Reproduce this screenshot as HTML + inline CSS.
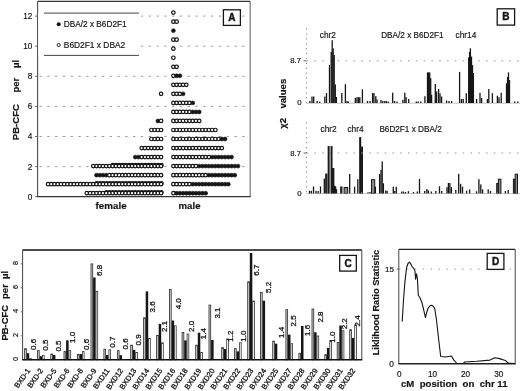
<!DOCTYPE html>
<html><head><meta charset="utf-8"><title>Figure</title>
<style>
html,body{margin:0;padding:0;background:#fff;}
body{width:520px;height:391px;overflow:hidden;}
svg{display:block;filter:grayscale(1);}
text{stroke:#161616;stroke-width:0.18px;}
svg{font-family:"Liberation Sans", sans-serif;}
</style></head><body>
<svg width="520" height="391" viewBox="0 0 520 391">
<rect x="0" y="0" width="520" height="391" fill="#fff"/>
<line x1="39.45" y1="166.6" x2="250.2" y2="166.6" stroke="#9a9a9a" stroke-width="1" stroke-dasharray="2.3 5.5"/>
<line x1="39.45" y1="136.5" x2="250.2" y2="136.5" stroke="#9a9a9a" stroke-width="1" stroke-dasharray="2.3 5.5"/>
<line x1="39.45" y1="106.4" x2="250.2" y2="106.4" stroke="#9a9a9a" stroke-width="1" stroke-dasharray="2.3 5.5"/>
<line x1="39.45" y1="76.3" x2="250.2" y2="76.3" stroke="#9a9a9a" stroke-width="1" stroke-dasharray="2.3 5.5"/>
<line x1="39.45" y1="46.2" x2="250.2" y2="46.2" stroke="#9a9a9a" stroke-width="1" stroke-dasharray="2.3 5.5"/>
<line x1="39.45" y1="16.1" x2="250.2" y2="16.1" stroke="#9a9a9a" stroke-width="1" stroke-dasharray="2.3 5.5"/>
<line x1="37.6" y1="1.4" x2="250.2" y2="1.4" stroke="#333" stroke-width="1.4"/>
<line x1="250.2" y1="1.4" x2="250.2" y2="196.7" stroke="#777" stroke-width="1.2"/>
<line x1="37.6" y1="1.4" x2="37.6" y2="196.7" stroke="#4a4a4a" stroke-width="1.1"/>
<line x1="37.1" y1="196.7" x2="250.7" y2="196.7" stroke="#333" stroke-width="1.3"/>
<line x1="35.1" y1="196.7" x2="37.6" y2="196.7" stroke="#555" stroke-width="0.9"/>
<text x="32.4" y="199.6" font-size="8.2" font-weight="normal" text-anchor="end" fill="#161616">0</text>
<line x1="35.1" y1="166.6" x2="37.6" y2="166.6" stroke="#555" stroke-width="0.9"/>
<text x="32.4" y="169.5" font-size="8.2" font-weight="normal" text-anchor="end" fill="#161616">2</text>
<line x1="35.1" y1="136.5" x2="37.6" y2="136.5" stroke="#555" stroke-width="0.9"/>
<text x="32.4" y="139.4" font-size="8.2" font-weight="normal" text-anchor="end" fill="#161616">4</text>
<line x1="35.1" y1="106.4" x2="37.6" y2="106.4" stroke="#555" stroke-width="0.9"/>
<text x="32.4" y="109.3" font-size="8.2" font-weight="normal" text-anchor="end" fill="#161616">6</text>
<line x1="35.1" y1="76.3" x2="37.6" y2="76.3" stroke="#555" stroke-width="0.9"/>
<text x="32.4" y="79.2" font-size="8.2" font-weight="normal" text-anchor="end" fill="#161616">8</text>
<line x1="35.1" y1="46.2" x2="37.6" y2="46.2" stroke="#555" stroke-width="0.9"/>
<text x="32.4" y="49.1" font-size="8.2" font-weight="normal" text-anchor="end" fill="#161616">10</text>
<line x1="35.1" y1="16.1" x2="37.6" y2="16.1" stroke="#555" stroke-width="0.9"/>
<text x="32.4" y="19" font-size="8.2" font-weight="normal" text-anchor="end" fill="#161616">12</text>
<text x="19.2" y="140.2" font-size="9.6" font-weight="bold" text-anchor="start" fill="#161616" transform="rotate(-90 19.2 140.2)">PB-CFC</text>
<text x="19.2" y="92.6" font-size="9.6" font-weight="bold" text-anchor="start" fill="#161616" transform="rotate(-90 19.2 92.6)">per</text>
<text x="19.2" y="68" font-size="9.6" font-weight="bold" text-anchor="start" fill="#161616" transform="rotate(-90 19.2 68)">&#181;l</text>
<rect x="38.3" y="12.4" width="101" height="43.8" fill="#fff" stroke="none" stroke-width="1"/>
<line x1="44" y1="13.1" x2="139" y2="13.1" stroke="#444" stroke-width="1"/>
<line x1="44" y1="55.4" x2="139" y2="55.4" stroke="#444" stroke-width="1"/>
<circle cx="58.7" cy="24.2" r="2" fill="#161616"/>
<circle cx="58.7" cy="45" r="1.6" fill="#fff" stroke="#161616" stroke-width="0.9"/>
<text x="63.8" y="27" font-size="8.25" font-weight="normal" text-anchor="start" fill="#161616">DBA/2 x B6D2F1</text>
<text x="63.8" y="48" font-size="8.4" font-weight="normal" text-anchor="start" fill="#161616">B6D2F1 x DBA2</text>
<rect x="223.4" y="9.8" width="17" height="15.6" fill="#fff" stroke="#161616" stroke-width="1.3"/>
<text x="231.9" y="21.1" font-size="10" font-weight="bold" text-anchor="middle" fill="#161616" style="stroke-width:0.45px">A</text>
<text x="95.6" y="208.7" font-size="9.8" font-weight="bold" text-anchor="start" fill="#161616">female</text>
<text x="178.6" y="208.7" font-size="9.6" font-weight="bold" text-anchor="start" fill="#161616">male</text>
<circle cx="112.95" cy="165.21" r="1.75" fill="#fff" stroke="#161616" stroke-width="1.2"/>
<circle cx="116.18" cy="165.21" r="1.75" fill="#fff" stroke="#161616" stroke-width="1.2"/>
<circle cx="119.41" cy="165.21" r="1.75" fill="#fff" stroke="#161616" stroke-width="1.2"/>
<circle cx="122.64" cy="165.21" r="1.75" fill="#fff" stroke="#161616" stroke-width="1.2"/>
<circle cx="125.87" cy="165.21" r="1.75" fill="#fff" stroke="#161616" stroke-width="1.2"/>
<circle cx="129.1" cy="165.21" r="1.75" fill="#fff" stroke="#161616" stroke-width="1.2"/>
<circle cx="132.33" cy="165.21" r="1.75" fill="#fff" stroke="#161616" stroke-width="1.2"/>
<circle cx="135.56" cy="165.21" r="1.75" fill="#fff" stroke="#161616" stroke-width="1.2"/>
<circle cx="138.79" cy="165.21" r="1.75" fill="#fff" stroke="#161616" stroke-width="1.2"/>
<circle cx="142.02" cy="165.21" r="1.75" fill="#fff" stroke="#161616" stroke-width="1.2"/>
<circle cx="145.25" cy="165.21" r="1.75" fill="#fff" stroke="#161616" stroke-width="1.2"/>
<circle cx="148.48" cy="165.21" r="1.75" fill="#fff" stroke="#161616" stroke-width="1.2"/>
<circle cx="151.71" cy="165.21" r="1.75" fill="#fff" stroke="#161616" stroke-width="1.2"/>
<circle cx="154.94" cy="165.21" r="1.75" fill="#fff" stroke="#161616" stroke-width="1.2"/>
<circle cx="158.17" cy="165.21" r="1.75" fill="#fff" stroke="#161616" stroke-width="1.2"/>
<circle cx="161.4" cy="165.21" r="1.75" fill="#fff" stroke="#161616" stroke-width="1.2"/>
<circle cx="96.8" cy="183.27" r="1.75" fill="#fff" stroke="#161616" stroke-width="1.2"/>
<circle cx="100.03" cy="183.27" r="1.75" fill="#fff" stroke="#161616" stroke-width="1.2"/>
<circle cx="103.26" cy="183.27" r="1.75" fill="#fff" stroke="#161616" stroke-width="1.2"/>
<circle cx="106.49" cy="183.27" r="1.75" fill="#fff" stroke="#161616" stroke-width="1.2"/>
<circle cx="109.72" cy="183.27" r="1.75" fill="#fff" stroke="#161616" stroke-width="1.2"/>
<circle cx="112.95" cy="183.27" r="1.75" fill="#fff" stroke="#161616" stroke-width="1.2"/>
<circle cx="116.18" cy="183.27" r="1.75" fill="#fff" stroke="#161616" stroke-width="1.2"/>
<circle cx="119.41" cy="183.27" r="1.75" fill="#fff" stroke="#161616" stroke-width="1.2"/>
<circle cx="122.64" cy="183.27" r="1.75" fill="#fff" stroke="#161616" stroke-width="1.2"/>
<circle cx="125.87" cy="183.27" r="1.75" fill="#fff" stroke="#161616" stroke-width="1.2"/>
<circle cx="129.1" cy="183.27" r="1.75" fill="#fff" stroke="#161616" stroke-width="1.2"/>
<circle cx="132.33" cy="183.27" r="1.75" fill="#fff" stroke="#161616" stroke-width="1.2"/>
<circle cx="135.56" cy="183.27" r="1.75" fill="#fff" stroke="#161616" stroke-width="1.2"/>
<circle cx="138.79" cy="183.27" r="1.75" fill="#fff" stroke="#161616" stroke-width="1.2"/>
<circle cx="142.02" cy="183.27" r="1.75" fill="#fff" stroke="#161616" stroke-width="1.2"/>
<circle cx="145.25" cy="183.27" r="1.75" fill="#fff" stroke="#161616" stroke-width="1.2"/>
<circle cx="148.48" cy="183.27" r="1.75" fill="#fff" stroke="#161616" stroke-width="1.2"/>
<circle cx="151.71" cy="183.27" r="1.75" fill="#fff" stroke="#161616" stroke-width="1.2"/>
<circle cx="154.94" cy="183.27" r="1.75" fill="#fff" stroke="#161616" stroke-width="1.2"/>
<circle cx="158.17" cy="183.27" r="1.75" fill="#fff" stroke="#161616" stroke-width="1.2"/>
<circle cx="161.4" cy="183.27" r="1.75" fill="#fff" stroke="#161616" stroke-width="1.2"/>
<circle cx="106.49" cy="192.3" r="1.75" fill="#fff" stroke="#161616" stroke-width="1.2"/>
<circle cx="109.72" cy="192.3" r="1.75" fill="#fff" stroke="#161616" stroke-width="1.2"/>
<circle cx="112.95" cy="192.3" r="1.75" fill="#fff" stroke="#161616" stroke-width="1.2"/>
<circle cx="116.18" cy="192.3" r="1.75" fill="#fff" stroke="#161616" stroke-width="1.2"/>
<circle cx="119.41" cy="192.3" r="1.75" fill="#fff" stroke="#161616" stroke-width="1.2"/>
<circle cx="122.64" cy="192.3" r="1.75" fill="#fff" stroke="#161616" stroke-width="1.2"/>
<circle cx="125.87" cy="192.3" r="1.75" fill="#fff" stroke="#161616" stroke-width="1.2"/>
<circle cx="129.1" cy="192.3" r="1.75" fill="#fff" stroke="#161616" stroke-width="1.2"/>
<circle cx="132.33" cy="192.3" r="1.75" fill="#fff" stroke="#161616" stroke-width="1.2"/>
<circle cx="135.56" cy="192.3" r="1.75" fill="#fff" stroke="#161616" stroke-width="1.2"/>
<circle cx="138.79" cy="192.3" r="1.75" fill="#fff" stroke="#161616" stroke-width="1.2"/>
<circle cx="142.02" cy="192.3" r="1.75" fill="#fff" stroke="#161616" stroke-width="1.2"/>
<circle cx="145.25" cy="192.3" r="1.75" fill="#fff" stroke="#161616" stroke-width="1.2"/>
<circle cx="148.48" cy="192.3" r="1.75" fill="#fff" stroke="#161616" stroke-width="1.2"/>
<circle cx="151.71" cy="192.3" r="1.75" fill="#fff" stroke="#161616" stroke-width="1.2"/>
<circle cx="154.94" cy="192.3" r="1.75" fill="#fff" stroke="#161616" stroke-width="1.2"/>
<circle cx="158.17" cy="192.3" r="1.75" fill="#fff" stroke="#161616" stroke-width="1.2"/>
<circle cx="161.4" cy="192.3" r="1.75" fill="#fff" stroke="#161616" stroke-width="1.2"/>
<circle cx="173.4" cy="12.6" r="1.75" fill="#fff" stroke="#161616" stroke-width="1.2"/>
<circle cx="173.4" cy="21.63" r="1.75" fill="#fff" stroke="#161616" stroke-width="1.2"/>
<circle cx="176.63" cy="21.63" r="1.75" fill="#fff" stroke="#161616" stroke-width="1.2"/>
<circle cx="173.4" cy="30.66" r="1.95" fill="#161616" stroke="#161616" stroke-width="0.6"/>
<circle cx="173.4" cy="39.69" r="1.75" fill="#fff" stroke="#161616" stroke-width="1.2"/>
<circle cx="176.63" cy="39.69" r="1.75" fill="#fff" stroke="#161616" stroke-width="1.2"/>
<circle cx="173.4" cy="48.72" r="1.75" fill="#fff" stroke="#161616" stroke-width="1.2"/>
<circle cx="173.4" cy="57.75" r="1.75" fill="#fff" stroke="#161616" stroke-width="1.2"/>
<circle cx="173.4" cy="66.78" r="1.75" fill="#fff" stroke="#161616" stroke-width="1.2"/>
<circle cx="176.63" cy="66.78" r="1.75" fill="#fff" stroke="#161616" stroke-width="1.2"/>
<circle cx="173.4" cy="75.81" r="1.75" fill="#fff" stroke="#161616" stroke-width="1.2"/>
<circle cx="176.63" cy="75.81" r="1.95" fill="#161616" stroke="#161616" stroke-width="0.6"/>
<circle cx="179.86" cy="75.81" r="1.95" fill="#161616" stroke="#161616" stroke-width="0.6"/>
<circle cx="173.4" cy="84.84" r="1.75" fill="#fff" stroke="#161616" stroke-width="1.2"/>
<circle cx="176.63" cy="84.84" r="1.75" fill="#fff" stroke="#161616" stroke-width="1.2"/>
<circle cx="179.86" cy="84.84" r="1.75" fill="#fff" stroke="#161616" stroke-width="1.2"/>
<circle cx="183.09" cy="84.84" r="1.75" fill="#fff" stroke="#161616" stroke-width="1.2"/>
<circle cx="186.32" cy="84.84" r="1.75" fill="#fff" stroke="#161616" stroke-width="1.2"/>
<circle cx="173.4" cy="93.87" r="1.75" fill="#fff" stroke="#161616" stroke-width="1.2"/>
<circle cx="176.63" cy="93.87" r="1.75" fill="#fff" stroke="#161616" stroke-width="1.2"/>
<circle cx="179.86" cy="93.87" r="1.75" fill="#fff" stroke="#161616" stroke-width="1.2"/>
<circle cx="183.09" cy="93.87" r="1.95" fill="#161616" stroke="#161616" stroke-width="0.6"/>
<circle cx="173.4" cy="102.9" r="1.75" fill="#fff" stroke="#161616" stroke-width="1.2"/>
<circle cx="176.63" cy="102.9" r="1.75" fill="#fff" stroke="#161616" stroke-width="1.2"/>
<circle cx="179.86" cy="102.9" r="1.75" fill="#fff" stroke="#161616" stroke-width="1.2"/>
<circle cx="183.09" cy="102.9" r="1.75" fill="#fff" stroke="#161616" stroke-width="1.2"/>
<circle cx="186.32" cy="102.9" r="1.75" fill="#fff" stroke="#161616" stroke-width="1.2"/>
<circle cx="189.55" cy="102.9" r="1.75" fill="#fff" stroke="#161616" stroke-width="1.2"/>
<circle cx="192.78" cy="102.9" r="1.95" fill="#161616" stroke="#161616" stroke-width="0.6"/>
<circle cx="173.4" cy="111.93" r="1.75" fill="#fff" stroke="#161616" stroke-width="1.2"/>
<circle cx="176.63" cy="111.93" r="1.75" fill="#fff" stroke="#161616" stroke-width="1.2"/>
<circle cx="179.86" cy="111.93" r="1.75" fill="#fff" stroke="#161616" stroke-width="1.2"/>
<circle cx="183.09" cy="111.93" r="1.75" fill="#fff" stroke="#161616" stroke-width="1.2"/>
<circle cx="186.32" cy="111.93" r="1.75" fill="#fff" stroke="#161616" stroke-width="1.2"/>
<circle cx="189.55" cy="111.93" r="1.75" fill="#fff" stroke="#161616" stroke-width="1.2"/>
<circle cx="192.78" cy="111.93" r="1.95" fill="#161616" stroke="#161616" stroke-width="0.6"/>
<circle cx="196.01" cy="111.93" r="1.95" fill="#161616" stroke="#161616" stroke-width="0.6"/>
<circle cx="199.24" cy="111.93" r="1.95" fill="#161616" stroke="#161616" stroke-width="0.6"/>
<circle cx="173.4" cy="120.96" r="1.75" fill="#fff" stroke="#161616" stroke-width="1.2"/>
<circle cx="176.63" cy="120.96" r="1.75" fill="#fff" stroke="#161616" stroke-width="1.2"/>
<circle cx="179.86" cy="120.96" r="1.75" fill="#fff" stroke="#161616" stroke-width="1.2"/>
<circle cx="183.09" cy="120.96" r="1.75" fill="#fff" stroke="#161616" stroke-width="1.2"/>
<circle cx="186.32" cy="120.96" r="1.75" fill="#fff" stroke="#161616" stroke-width="1.2"/>
<circle cx="189.55" cy="120.96" r="1.75" fill="#fff" stroke="#161616" stroke-width="1.2"/>
<circle cx="192.78" cy="120.96" r="1.75" fill="#fff" stroke="#161616" stroke-width="1.2"/>
<circle cx="196.01" cy="120.96" r="1.75" fill="#fff" stroke="#161616" stroke-width="1.2"/>
<circle cx="199.24" cy="120.96" r="1.75" fill="#fff" stroke="#161616" stroke-width="1.2"/>
<circle cx="173.4" cy="129.99" r="1.75" fill="#fff" stroke="#161616" stroke-width="1.2"/>
<circle cx="176.63" cy="129.99" r="1.75" fill="#fff" stroke="#161616" stroke-width="1.2"/>
<circle cx="179.86" cy="129.99" r="1.75" fill="#fff" stroke="#161616" stroke-width="1.2"/>
<circle cx="183.09" cy="129.99" r="1.75" fill="#fff" stroke="#161616" stroke-width="1.2"/>
<circle cx="186.32" cy="129.99" r="1.75" fill="#fff" stroke="#161616" stroke-width="1.2"/>
<circle cx="189.55" cy="129.99" r="1.75" fill="#fff" stroke="#161616" stroke-width="1.2"/>
<circle cx="192.78" cy="129.99" r="1.75" fill="#fff" stroke="#161616" stroke-width="1.2"/>
<circle cx="196.01" cy="129.99" r="1.75" fill="#fff" stroke="#161616" stroke-width="1.2"/>
<circle cx="199.24" cy="129.99" r="1.75" fill="#fff" stroke="#161616" stroke-width="1.2"/>
<circle cx="202.47" cy="129.99" r="1.75" fill="#fff" stroke="#161616" stroke-width="1.2"/>
<circle cx="205.7" cy="129.99" r="1.75" fill="#fff" stroke="#161616" stroke-width="1.2"/>
<circle cx="208.93" cy="129.99" r="1.75" fill="#fff" stroke="#161616" stroke-width="1.2"/>
<circle cx="212.16" cy="129.99" r="1.75" fill="#fff" stroke="#161616" stroke-width="1.2"/>
<circle cx="215.39" cy="129.99" r="1.75" fill="#fff" stroke="#161616" stroke-width="1.2"/>
<circle cx="173.4" cy="139.02" r="1.75" fill="#fff" stroke="#161616" stroke-width="1.2"/>
<circle cx="176.63" cy="139.02" r="1.75" fill="#fff" stroke="#161616" stroke-width="1.2"/>
<circle cx="179.86" cy="139.02" r="1.75" fill="#fff" stroke="#161616" stroke-width="1.2"/>
<circle cx="183.09" cy="139.02" r="1.75" fill="#fff" stroke="#161616" stroke-width="1.2"/>
<circle cx="186.32" cy="139.02" r="1.75" fill="#fff" stroke="#161616" stroke-width="1.2"/>
<circle cx="189.55" cy="139.02" r="1.75" fill="#fff" stroke="#161616" stroke-width="1.2"/>
<circle cx="192.78" cy="139.02" r="1.75" fill="#fff" stroke="#161616" stroke-width="1.2"/>
<circle cx="196.01" cy="139.02" r="1.75" fill="#fff" stroke="#161616" stroke-width="1.2"/>
<circle cx="199.24" cy="139.02" r="1.75" fill="#fff" stroke="#161616" stroke-width="1.2"/>
<circle cx="202.47" cy="139.02" r="1.75" fill="#fff" stroke="#161616" stroke-width="1.2"/>
<circle cx="205.7" cy="139.02" r="1.75" fill="#fff" stroke="#161616" stroke-width="1.2"/>
<circle cx="208.93" cy="139.02" r="1.75" fill="#fff" stroke="#161616" stroke-width="1.2"/>
<circle cx="212.16" cy="139.02" r="1.75" fill="#fff" stroke="#161616" stroke-width="1.2"/>
<circle cx="215.39" cy="139.02" r="1.75" fill="#fff" stroke="#161616" stroke-width="1.2"/>
<circle cx="218.62" cy="139.02" r="1.75" fill="#fff" stroke="#161616" stroke-width="1.2"/>
<circle cx="221.85" cy="139.02" r="1.95" fill="#161616" stroke="#161616" stroke-width="0.6"/>
<circle cx="225.08" cy="139.02" r="1.95" fill="#161616" stroke="#161616" stroke-width="0.6"/>
<circle cx="173.4" cy="148.05" r="1.75" fill="#fff" stroke="#161616" stroke-width="1.2"/>
<circle cx="176.63" cy="148.05" r="1.75" fill="#fff" stroke="#161616" stroke-width="1.2"/>
<circle cx="179.86" cy="148.05" r="1.75" fill="#fff" stroke="#161616" stroke-width="1.2"/>
<circle cx="183.09" cy="148.05" r="1.75" fill="#fff" stroke="#161616" stroke-width="1.2"/>
<circle cx="186.32" cy="148.05" r="1.75" fill="#fff" stroke="#161616" stroke-width="1.2"/>
<circle cx="189.55" cy="148.05" r="1.75" fill="#fff" stroke="#161616" stroke-width="1.2"/>
<circle cx="192.78" cy="148.05" r="1.75" fill="#fff" stroke="#161616" stroke-width="1.2"/>
<circle cx="196.01" cy="148.05" r="1.75" fill="#fff" stroke="#161616" stroke-width="1.2"/>
<circle cx="199.24" cy="148.05" r="1.75" fill="#fff" stroke="#161616" stroke-width="1.2"/>
<circle cx="202.47" cy="148.05" r="1.75" fill="#fff" stroke="#161616" stroke-width="1.2"/>
<circle cx="205.7" cy="148.05" r="1.75" fill="#fff" stroke="#161616" stroke-width="1.2"/>
<circle cx="208.93" cy="148.05" r="1.75" fill="#fff" stroke="#161616" stroke-width="1.2"/>
<circle cx="212.16" cy="148.05" r="1.75" fill="#fff" stroke="#161616" stroke-width="1.2"/>
<circle cx="215.39" cy="148.05" r="1.75" fill="#fff" stroke="#161616" stroke-width="1.2"/>
<circle cx="218.62" cy="148.05" r="1.75" fill="#fff" stroke="#161616" stroke-width="1.2"/>
<circle cx="221.85" cy="148.05" r="1.75" fill="#fff" stroke="#161616" stroke-width="1.2"/>
<circle cx="173.4" cy="157.08" r="1.75" fill="#fff" stroke="#161616" stroke-width="1.2"/>
<circle cx="176.63" cy="157.08" r="1.75" fill="#fff" stroke="#161616" stroke-width="1.2"/>
<circle cx="179.86" cy="157.08" r="1.75" fill="#fff" stroke="#161616" stroke-width="1.2"/>
<circle cx="183.09" cy="157.08" r="1.75" fill="#fff" stroke="#161616" stroke-width="1.2"/>
<circle cx="186.32" cy="157.08" r="1.75" fill="#fff" stroke="#161616" stroke-width="1.2"/>
<circle cx="189.55" cy="157.08" r="1.75" fill="#fff" stroke="#161616" stroke-width="1.2"/>
<circle cx="192.78" cy="157.08" r="1.75" fill="#fff" stroke="#161616" stroke-width="1.2"/>
<circle cx="196.01" cy="157.08" r="1.75" fill="#fff" stroke="#161616" stroke-width="1.2"/>
<circle cx="199.24" cy="157.08" r="1.75" fill="#fff" stroke="#161616" stroke-width="1.2"/>
<circle cx="202.47" cy="157.08" r="1.75" fill="#fff" stroke="#161616" stroke-width="1.2"/>
<circle cx="205.7" cy="157.08" r="1.75" fill="#fff" stroke="#161616" stroke-width="1.2"/>
<circle cx="208.93" cy="157.08" r="1.75" fill="#fff" stroke="#161616" stroke-width="1.2"/>
<circle cx="212.16" cy="157.08" r="1.95" fill="#161616" stroke="#161616" stroke-width="0.6"/>
<circle cx="215.39" cy="157.08" r="1.95" fill="#161616" stroke="#161616" stroke-width="0.6"/>
<circle cx="218.62" cy="157.08" r="1.95" fill="#161616" stroke="#161616" stroke-width="0.6"/>
<circle cx="221.85" cy="157.08" r="1.95" fill="#161616" stroke="#161616" stroke-width="0.6"/>
<circle cx="225.08" cy="157.08" r="1.95" fill="#161616" stroke="#161616" stroke-width="0.6"/>
<circle cx="228.31" cy="157.08" r="1.95" fill="#161616" stroke="#161616" stroke-width="0.6"/>
<circle cx="231.54" cy="157.08" r="1.95" fill="#161616" stroke="#161616" stroke-width="0.6"/>
<circle cx="173.4" cy="166.11" r="1.75" fill="#fff" stroke="#161616" stroke-width="1.2"/>
<circle cx="176.63" cy="166.11" r="1.75" fill="#fff" stroke="#161616" stroke-width="1.2"/>
<circle cx="179.86" cy="166.11" r="1.75" fill="#fff" stroke="#161616" stroke-width="1.2"/>
<circle cx="183.09" cy="166.11" r="1.75" fill="#fff" stroke="#161616" stroke-width="1.2"/>
<circle cx="186.32" cy="166.11" r="1.75" fill="#fff" stroke="#161616" stroke-width="1.2"/>
<circle cx="189.55" cy="166.11" r="1.75" fill="#fff" stroke="#161616" stroke-width="1.2"/>
<circle cx="192.78" cy="166.11" r="1.75" fill="#fff" stroke="#161616" stroke-width="1.2"/>
<circle cx="196.01" cy="166.11" r="1.75" fill="#fff" stroke="#161616" stroke-width="1.2"/>
<circle cx="199.24" cy="166.11" r="1.95" fill="#161616" stroke="#161616" stroke-width="0.6"/>
<circle cx="202.47" cy="166.11" r="1.95" fill="#161616" stroke="#161616" stroke-width="0.6"/>
<circle cx="205.7" cy="166.11" r="1.95" fill="#161616" stroke="#161616" stroke-width="0.6"/>
<circle cx="208.93" cy="166.11" r="1.95" fill="#161616" stroke="#161616" stroke-width="0.6"/>
<circle cx="212.16" cy="166.11" r="1.95" fill="#161616" stroke="#161616" stroke-width="0.6"/>
<circle cx="215.39" cy="166.11" r="1.95" fill="#161616" stroke="#161616" stroke-width="0.6"/>
<circle cx="218.62" cy="166.11" r="1.95" fill="#161616" stroke="#161616" stroke-width="0.6"/>
<circle cx="221.85" cy="166.11" r="1.95" fill="#161616" stroke="#161616" stroke-width="0.6"/>
<circle cx="225.08" cy="166.11" r="1.95" fill="#161616" stroke="#161616" stroke-width="0.6"/>
<circle cx="228.31" cy="166.11" r="1.95" fill="#161616" stroke="#161616" stroke-width="0.6"/>
<circle cx="231.54" cy="166.11" r="1.95" fill="#161616" stroke="#161616" stroke-width="0.6"/>
<circle cx="234.77" cy="166.11" r="1.95" fill="#161616" stroke="#161616" stroke-width="0.6"/>
<circle cx="238" cy="166.11" r="1.95" fill="#161616" stroke="#161616" stroke-width="0.6"/>
<circle cx="173.4" cy="175.14" r="1.75" fill="#fff" stroke="#161616" stroke-width="1.2"/>
<circle cx="176.63" cy="175.14" r="1.75" fill="#fff" stroke="#161616" stroke-width="1.2"/>
<circle cx="179.86" cy="175.14" r="1.75" fill="#fff" stroke="#161616" stroke-width="1.2"/>
<circle cx="183.09" cy="175.14" r="1.75" fill="#fff" stroke="#161616" stroke-width="1.2"/>
<circle cx="186.32" cy="175.14" r="1.75" fill="#fff" stroke="#161616" stroke-width="1.2"/>
<circle cx="189.55" cy="175.14" r="1.75" fill="#fff" stroke="#161616" stroke-width="1.2"/>
<circle cx="192.78" cy="175.14" r="1.75" fill="#fff" stroke="#161616" stroke-width="1.2"/>
<circle cx="196.01" cy="175.14" r="1.75" fill="#fff" stroke="#161616" stroke-width="1.2"/>
<circle cx="199.24" cy="175.14" r="1.75" fill="#fff" stroke="#161616" stroke-width="1.2"/>
<circle cx="202.47" cy="175.14" r="1.75" fill="#fff" stroke="#161616" stroke-width="1.2"/>
<circle cx="205.7" cy="175.14" r="1.75" fill="#fff" stroke="#161616" stroke-width="1.2"/>
<circle cx="208.93" cy="175.14" r="1.95" fill="#161616" stroke="#161616" stroke-width="0.6"/>
<circle cx="212.16" cy="175.14" r="1.95" fill="#161616" stroke="#161616" stroke-width="0.6"/>
<circle cx="215.39" cy="175.14" r="1.95" fill="#161616" stroke="#161616" stroke-width="0.6"/>
<circle cx="218.62" cy="175.14" r="1.95" fill="#161616" stroke="#161616" stroke-width="0.6"/>
<circle cx="221.85" cy="175.14" r="1.95" fill="#161616" stroke="#161616" stroke-width="0.6"/>
<circle cx="225.08" cy="175.14" r="1.95" fill="#161616" stroke="#161616" stroke-width="0.6"/>
<circle cx="228.31" cy="175.14" r="1.95" fill="#161616" stroke="#161616" stroke-width="0.6"/>
<circle cx="231.54" cy="175.14" r="1.95" fill="#161616" stroke="#161616" stroke-width="0.6"/>
<circle cx="234.77" cy="175.14" r="1.95" fill="#161616" stroke="#161616" stroke-width="0.6"/>
<circle cx="173.4" cy="184.17" r="1.75" fill="#fff" stroke="#161616" stroke-width="1.2"/>
<circle cx="176.63" cy="184.17" r="1.75" fill="#fff" stroke="#161616" stroke-width="1.2"/>
<circle cx="179.86" cy="184.17" r="1.75" fill="#fff" stroke="#161616" stroke-width="1.2"/>
<circle cx="183.09" cy="184.17" r="1.75" fill="#fff" stroke="#161616" stroke-width="1.2"/>
<circle cx="186.32" cy="184.17" r="1.75" fill="#fff" stroke="#161616" stroke-width="1.2"/>
<circle cx="189.55" cy="184.17" r="1.75" fill="#fff" stroke="#161616" stroke-width="1.2"/>
<circle cx="192.78" cy="184.17" r="1.95" fill="#161616" stroke="#161616" stroke-width="0.6"/>
<circle cx="196.01" cy="184.17" r="1.95" fill="#161616" stroke="#161616" stroke-width="0.6"/>
<circle cx="199.24" cy="184.17" r="1.95" fill="#161616" stroke="#161616" stroke-width="0.6"/>
<circle cx="202.47" cy="184.17" r="1.95" fill="#161616" stroke="#161616" stroke-width="0.6"/>
<circle cx="205.7" cy="184.17" r="1.95" fill="#161616" stroke="#161616" stroke-width="0.6"/>
<circle cx="208.93" cy="184.17" r="1.95" fill="#161616" stroke="#161616" stroke-width="0.6"/>
<circle cx="212.16" cy="184.17" r="1.95" fill="#161616" stroke="#161616" stroke-width="0.6"/>
<circle cx="215.39" cy="184.17" r="1.95" fill="#161616" stroke="#161616" stroke-width="0.6"/>
<circle cx="218.62" cy="184.17" r="1.95" fill="#161616" stroke="#161616" stroke-width="0.6"/>
<circle cx="221.85" cy="184.17" r="1.95" fill="#161616" stroke="#161616" stroke-width="0.6"/>
<circle cx="225.08" cy="184.17" r="1.95" fill="#161616" stroke="#161616" stroke-width="0.6"/>
<circle cx="228.31" cy="184.17" r="1.95" fill="#161616" stroke="#161616" stroke-width="0.6"/>
<circle cx="173.4" cy="193.2" r="1.75" fill="#fff" stroke="#161616" stroke-width="1.2"/>
<circle cx="176.63" cy="193.2" r="1.95" fill="#161616" stroke="#161616" stroke-width="0.6"/>
<circle cx="179.86" cy="193.2" r="1.95" fill="#161616" stroke="#161616" stroke-width="0.6"/>
<circle cx="183.09" cy="193.2" r="1.95" fill="#161616" stroke="#161616" stroke-width="0.6"/>
<circle cx="186.32" cy="193.2" r="1.95" fill="#161616" stroke="#161616" stroke-width="0.6"/>
<circle cx="189.55" cy="193.2" r="1.95" fill="#161616" stroke="#161616" stroke-width="0.6"/>
<circle cx="192.78" cy="193.2" r="1.95" fill="#161616" stroke="#161616" stroke-width="0.6"/>
<circle cx="196.01" cy="193.2" r="1.95" fill="#161616" stroke="#161616" stroke-width="0.6"/>
<circle cx="199.24" cy="193.2" r="1.95" fill="#161616" stroke="#161616" stroke-width="0.6"/>
<circle cx="202.47" cy="193.2" r="1.95" fill="#161616" stroke="#161616" stroke-width="0.6"/>
<circle cx="205.7" cy="193.2" r="1.95" fill="#161616" stroke="#161616" stroke-width="0.6"/>
<circle cx="161.1" cy="93.87" r="1.75" fill="#fff" stroke="#161616" stroke-width="1.2"/>
<circle cx="157.87" cy="120.96" r="1.95" fill="#161616" stroke="#161616" stroke-width="0.6"/>
<circle cx="161.1" cy="120.96" r="1.75" fill="#fff" stroke="#161616" stroke-width="1.2"/>
<circle cx="151.41" cy="129.99" r="1.75" fill="#fff" stroke="#161616" stroke-width="1.2"/>
<circle cx="154.64" cy="129.99" r="1.75" fill="#fff" stroke="#161616" stroke-width="1.2"/>
<circle cx="157.87" cy="129.99" r="1.75" fill="#fff" stroke="#161616" stroke-width="1.2"/>
<circle cx="161.1" cy="129.99" r="1.75" fill="#fff" stroke="#161616" stroke-width="1.2"/>
<circle cx="151.41" cy="139.02" r="1.75" fill="#fff" stroke="#161616" stroke-width="1.2"/>
<circle cx="154.64" cy="139.02" r="1.75" fill="#fff" stroke="#161616" stroke-width="1.2"/>
<circle cx="157.87" cy="139.02" r="1.75" fill="#fff" stroke="#161616" stroke-width="1.2"/>
<circle cx="161.1" cy="139.02" r="1.75" fill="#fff" stroke="#161616" stroke-width="1.2"/>
<circle cx="141.72" cy="148.05" r="1.75" fill="#fff" stroke="#161616" stroke-width="1.2"/>
<circle cx="144.95" cy="148.05" r="1.75" fill="#fff" stroke="#161616" stroke-width="1.2"/>
<circle cx="148.18" cy="148.05" r="1.75" fill="#fff" stroke="#161616" stroke-width="1.2"/>
<circle cx="151.41" cy="148.05" r="1.75" fill="#fff" stroke="#161616" stroke-width="1.2"/>
<circle cx="154.64" cy="148.05" r="1.75" fill="#fff" stroke="#161616" stroke-width="1.2"/>
<circle cx="157.87" cy="148.05" r="1.75" fill="#fff" stroke="#161616" stroke-width="1.2"/>
<circle cx="161.1" cy="148.05" r="1.75" fill="#fff" stroke="#161616" stroke-width="1.2"/>
<circle cx="135.26" cy="157.08" r="1.95" fill="#161616" stroke="#161616" stroke-width="0.6"/>
<circle cx="138.49" cy="157.08" r="1.95" fill="#161616" stroke="#161616" stroke-width="0.6"/>
<circle cx="141.72" cy="157.08" r="1.75" fill="#fff" stroke="#161616" stroke-width="1.2"/>
<circle cx="144.95" cy="157.08" r="1.75" fill="#fff" stroke="#161616" stroke-width="1.2"/>
<circle cx="148.18" cy="157.08" r="1.75" fill="#fff" stroke="#161616" stroke-width="1.2"/>
<circle cx="151.41" cy="157.08" r="1.75" fill="#fff" stroke="#161616" stroke-width="1.2"/>
<circle cx="154.64" cy="157.08" r="1.75" fill="#fff" stroke="#161616" stroke-width="1.2"/>
<circle cx="157.87" cy="157.08" r="1.75" fill="#fff" stroke="#161616" stroke-width="1.2"/>
<circle cx="161.1" cy="157.08" r="1.75" fill="#fff" stroke="#161616" stroke-width="1.2"/>
<circle cx="93.27" cy="166.11" r="1.75" fill="#fff" stroke="#161616" stroke-width="1.2"/>
<circle cx="96.5" cy="166.11" r="1.75" fill="#fff" stroke="#161616" stroke-width="1.2"/>
<circle cx="99.73" cy="166.11" r="1.75" fill="#fff" stroke="#161616" stroke-width="1.2"/>
<circle cx="102.96" cy="166.11" r="1.75" fill="#fff" stroke="#161616" stroke-width="1.2"/>
<circle cx="106.19" cy="166.11" r="1.75" fill="#fff" stroke="#161616" stroke-width="1.2"/>
<circle cx="109.42" cy="166.11" r="1.75" fill="#fff" stroke="#161616" stroke-width="1.2"/>
<circle cx="112.65" cy="166.11" r="1.75" fill="#fff" stroke="#161616" stroke-width="1.2"/>
<circle cx="115.88" cy="166.11" r="1.75" fill="#fff" stroke="#161616" stroke-width="1.2"/>
<circle cx="119.11" cy="166.11" r="1.75" fill="#fff" stroke="#161616" stroke-width="1.2"/>
<circle cx="122.34" cy="166.11" r="1.75" fill="#fff" stroke="#161616" stroke-width="1.2"/>
<circle cx="125.57" cy="166.11" r="1.75" fill="#fff" stroke="#161616" stroke-width="1.2"/>
<circle cx="128.8" cy="166.11" r="1.75" fill="#fff" stroke="#161616" stroke-width="1.2"/>
<circle cx="132.03" cy="166.11" r="1.75" fill="#fff" stroke="#161616" stroke-width="1.2"/>
<circle cx="135.26" cy="166.11" r="1.75" fill="#fff" stroke="#161616" stroke-width="1.2"/>
<circle cx="138.49" cy="166.11" r="1.75" fill="#fff" stroke="#161616" stroke-width="1.2"/>
<circle cx="141.72" cy="166.11" r="1.75" fill="#fff" stroke="#161616" stroke-width="1.2"/>
<circle cx="144.95" cy="166.11" r="1.75" fill="#fff" stroke="#161616" stroke-width="1.2"/>
<circle cx="148.18" cy="166.11" r="1.75" fill="#fff" stroke="#161616" stroke-width="1.2"/>
<circle cx="151.41" cy="166.11" r="1.75" fill="#fff" stroke="#161616" stroke-width="1.2"/>
<circle cx="154.64" cy="166.11" r="1.75" fill="#fff" stroke="#161616" stroke-width="1.2"/>
<circle cx="157.87" cy="166.11" r="1.75" fill="#fff" stroke="#161616" stroke-width="1.2"/>
<circle cx="161.1" cy="166.11" r="1.75" fill="#fff" stroke="#161616" stroke-width="1.2"/>
<circle cx="96.5" cy="175.14" r="1.95" fill="#161616" stroke="#161616" stroke-width="0.6"/>
<circle cx="99.73" cy="175.14" r="1.95" fill="#161616" stroke="#161616" stroke-width="0.6"/>
<circle cx="102.96" cy="175.14" r="1.95" fill="#161616" stroke="#161616" stroke-width="0.6"/>
<circle cx="106.19" cy="175.14" r="1.95" fill="#161616" stroke="#161616" stroke-width="0.6"/>
<circle cx="109.42" cy="175.14" r="1.75" fill="#fff" stroke="#161616" stroke-width="1.2"/>
<circle cx="112.65" cy="175.14" r="1.75" fill="#fff" stroke="#161616" stroke-width="1.2"/>
<circle cx="115.88" cy="175.14" r="1.75" fill="#fff" stroke="#161616" stroke-width="1.2"/>
<circle cx="119.11" cy="175.14" r="1.75" fill="#fff" stroke="#161616" stroke-width="1.2"/>
<circle cx="122.34" cy="175.14" r="1.75" fill="#fff" stroke="#161616" stroke-width="1.2"/>
<circle cx="125.57" cy="175.14" r="1.75" fill="#fff" stroke="#161616" stroke-width="1.2"/>
<circle cx="128.8" cy="175.14" r="1.75" fill="#fff" stroke="#161616" stroke-width="1.2"/>
<circle cx="132.03" cy="175.14" r="1.75" fill="#fff" stroke="#161616" stroke-width="1.2"/>
<circle cx="135.26" cy="175.14" r="1.75" fill="#fff" stroke="#161616" stroke-width="1.2"/>
<circle cx="138.49" cy="175.14" r="1.75" fill="#fff" stroke="#161616" stroke-width="1.2"/>
<circle cx="141.72" cy="175.14" r="1.75" fill="#fff" stroke="#161616" stroke-width="1.2"/>
<circle cx="144.95" cy="175.14" r="1.75" fill="#fff" stroke="#161616" stroke-width="1.2"/>
<circle cx="148.18" cy="175.14" r="1.75" fill="#fff" stroke="#161616" stroke-width="1.2"/>
<circle cx="151.41" cy="175.14" r="1.75" fill="#fff" stroke="#161616" stroke-width="1.2"/>
<circle cx="154.64" cy="175.14" r="1.75" fill="#fff" stroke="#161616" stroke-width="1.2"/>
<circle cx="157.87" cy="175.14" r="1.75" fill="#fff" stroke="#161616" stroke-width="1.2"/>
<circle cx="161.1" cy="175.14" r="1.75" fill="#fff" stroke="#161616" stroke-width="1.2"/>
<circle cx="48.05" cy="184.17" r="1.75" fill="#fff" stroke="#161616" stroke-width="1.2"/>
<circle cx="51.28" cy="184.17" r="1.75" fill="#fff" stroke="#161616" stroke-width="1.2"/>
<circle cx="54.51" cy="184.17" r="1.75" fill="#fff" stroke="#161616" stroke-width="1.2"/>
<circle cx="57.74" cy="184.17" r="1.75" fill="#fff" stroke="#161616" stroke-width="1.2"/>
<circle cx="60.97" cy="184.17" r="1.75" fill="#fff" stroke="#161616" stroke-width="1.2"/>
<circle cx="64.2" cy="184.17" r="1.75" fill="#fff" stroke="#161616" stroke-width="1.2"/>
<circle cx="67.43" cy="184.17" r="1.75" fill="#fff" stroke="#161616" stroke-width="1.2"/>
<circle cx="70.66" cy="184.17" r="1.75" fill="#fff" stroke="#161616" stroke-width="1.2"/>
<circle cx="73.89" cy="184.17" r="1.75" fill="#fff" stroke="#161616" stroke-width="1.2"/>
<circle cx="77.12" cy="184.17" r="1.75" fill="#fff" stroke="#161616" stroke-width="1.2"/>
<circle cx="80.35" cy="184.17" r="1.75" fill="#fff" stroke="#161616" stroke-width="1.2"/>
<circle cx="83.58" cy="184.17" r="1.75" fill="#fff" stroke="#161616" stroke-width="1.2"/>
<circle cx="86.81" cy="184.17" r="1.75" fill="#fff" stroke="#161616" stroke-width="1.2"/>
<circle cx="90.04" cy="184.17" r="1.75" fill="#fff" stroke="#161616" stroke-width="1.2"/>
<circle cx="93.27" cy="184.17" r="1.75" fill="#fff" stroke="#161616" stroke-width="1.2"/>
<circle cx="96.5" cy="184.17" r="1.75" fill="#fff" stroke="#161616" stroke-width="1.2"/>
<circle cx="99.73" cy="184.17" r="1.75" fill="#fff" stroke="#161616" stroke-width="1.2"/>
<circle cx="102.96" cy="184.17" r="1.75" fill="#fff" stroke="#161616" stroke-width="1.2"/>
<circle cx="106.19" cy="184.17" r="1.75" fill="#fff" stroke="#161616" stroke-width="1.2"/>
<circle cx="109.42" cy="184.17" r="1.75" fill="#fff" stroke="#161616" stroke-width="1.2"/>
<circle cx="112.65" cy="184.17" r="1.75" fill="#fff" stroke="#161616" stroke-width="1.2"/>
<circle cx="115.88" cy="184.17" r="1.75" fill="#fff" stroke="#161616" stroke-width="1.2"/>
<circle cx="119.11" cy="184.17" r="1.75" fill="#fff" stroke="#161616" stroke-width="1.2"/>
<circle cx="122.34" cy="184.17" r="1.75" fill="#fff" stroke="#161616" stroke-width="1.2"/>
<circle cx="125.57" cy="184.17" r="1.75" fill="#fff" stroke="#161616" stroke-width="1.2"/>
<circle cx="128.8" cy="184.17" r="1.75" fill="#fff" stroke="#161616" stroke-width="1.2"/>
<circle cx="132.03" cy="184.17" r="1.75" fill="#fff" stroke="#161616" stroke-width="1.2"/>
<circle cx="135.26" cy="184.17" r="1.75" fill="#fff" stroke="#161616" stroke-width="1.2"/>
<circle cx="138.49" cy="184.17" r="1.75" fill="#fff" stroke="#161616" stroke-width="1.2"/>
<circle cx="141.72" cy="184.17" r="1.75" fill="#fff" stroke="#161616" stroke-width="1.2"/>
<circle cx="144.95" cy="184.17" r="1.75" fill="#fff" stroke="#161616" stroke-width="1.2"/>
<circle cx="148.18" cy="184.17" r="1.75" fill="#fff" stroke="#161616" stroke-width="1.2"/>
<circle cx="151.41" cy="184.17" r="1.75" fill="#fff" stroke="#161616" stroke-width="1.2"/>
<circle cx="154.64" cy="184.17" r="1.75" fill="#fff" stroke="#161616" stroke-width="1.2"/>
<circle cx="157.87" cy="184.17" r="1.75" fill="#fff" stroke="#161616" stroke-width="1.2"/>
<circle cx="161.1" cy="184.17" r="1.75" fill="#fff" stroke="#161616" stroke-width="1.2"/>
<circle cx="86.81" cy="193.2" r="1.75" fill="#fff" stroke="#161616" stroke-width="1.2"/>
<circle cx="90.04" cy="193.2" r="1.75" fill="#fff" stroke="#161616" stroke-width="1.2"/>
<circle cx="93.27" cy="193.2" r="1.75" fill="#fff" stroke="#161616" stroke-width="1.2"/>
<circle cx="96.5" cy="193.2" r="1.75" fill="#fff" stroke="#161616" stroke-width="1.2"/>
<circle cx="99.73" cy="193.2" r="1.75" fill="#fff" stroke="#161616" stroke-width="1.2"/>
<circle cx="102.96" cy="193.2" r="1.75" fill="#fff" stroke="#161616" stroke-width="1.2"/>
<circle cx="106.19" cy="193.2" r="1.75" fill="#fff" stroke="#161616" stroke-width="1.2"/>
<circle cx="109.42" cy="193.2" r="1.75" fill="#fff" stroke="#161616" stroke-width="1.2"/>
<circle cx="112.65" cy="193.2" r="1.75" fill="#fff" stroke="#161616" stroke-width="1.2"/>
<circle cx="115.88" cy="193.2" r="1.75" fill="#fff" stroke="#161616" stroke-width="1.2"/>
<circle cx="119.11" cy="193.2" r="1.75" fill="#fff" stroke="#161616" stroke-width="1.2"/>
<circle cx="122.34" cy="193.2" r="1.75" fill="#fff" stroke="#161616" stroke-width="1.2"/>
<circle cx="125.57" cy="193.2" r="1.75" fill="#fff" stroke="#161616" stroke-width="1.2"/>
<circle cx="128.8" cy="193.2" r="1.75" fill="#fff" stroke="#161616" stroke-width="1.2"/>
<circle cx="132.03" cy="193.2" r="1.75" fill="#fff" stroke="#161616" stroke-width="1.2"/>
<circle cx="135.26" cy="193.2" r="1.75" fill="#fff" stroke="#161616" stroke-width="1.2"/>
<circle cx="138.49" cy="193.2" r="1.75" fill="#fff" stroke="#161616" stroke-width="1.2"/>
<circle cx="141.72" cy="193.2" r="1.75" fill="#fff" stroke="#161616" stroke-width="1.2"/>
<circle cx="144.95" cy="193.2" r="1.75" fill="#fff" stroke="#161616" stroke-width="1.2"/>
<circle cx="148.18" cy="193.2" r="1.75" fill="#fff" stroke="#161616" stroke-width="1.2"/>
<circle cx="151.41" cy="193.2" r="1.75" fill="#fff" stroke="#161616" stroke-width="1.2"/>
<circle cx="154.64" cy="193.2" r="1.75" fill="#fff" stroke="#161616" stroke-width="1.2"/>
<circle cx="157.87" cy="193.2" r="1.75" fill="#fff" stroke="#161616" stroke-width="1.2"/>
<circle cx="161.1" cy="193.2" r="1.75" fill="#fff" stroke="#161616" stroke-width="1.2"/>
<line x1="306.5" y1="28.5" x2="306.5" y2="103" stroke="#888" stroke-width="1.1" stroke-dasharray="1.2 3.7"/>
<line x1="306.6" y1="60.8" x2="520" y2="60.8" stroke="#9a9a9a" stroke-width="1" stroke-dasharray="1.6 6.2"/>
<line x1="303.5" y1="60.8" x2="306.5" y2="60.8" stroke="#555" stroke-width="0.9"/>
<line x1="306.5" y1="103.2" x2="520" y2="103.2" stroke="#999" stroke-width="0.6"/>
<text x="301" y="63.4" font-size="7.8" font-weight="normal" text-anchor="end" fill="#161616">8.7</text>
<text x="301.7" y="105.1" font-size="7.8" font-weight="normal" text-anchor="end" fill="#161616">0</text>
<rect x="309.25" y="101" width="1.3" height="2" fill="#161616" stroke="none" stroke-width="1"/>
<rect x="311.35" y="96.5" width="1.3" height="6.5" fill="#161616" stroke="none" stroke-width="1"/>
<rect x="313.05" y="96.5" width="1.3" height="6.5" fill="#161616" stroke="none" stroke-width="1"/>
<rect x="316.45" y="101" width="1.3" height="2" fill="#161616" stroke="none" stroke-width="1"/>
<rect x="319.05" y="101.5" width="1.3" height="1.5" fill="#161616" stroke="none" stroke-width="1"/>
<rect x="324.15" y="96.5" width="1.3" height="6.5" fill="#161616" stroke="none" stroke-width="1"/>
<rect x="325.85" y="93" width="1.3" height="10" fill="#161616" stroke="none" stroke-width="1"/>
<rect x="328.85" y="65" width="1.3" height="38" fill="#161616" stroke="none" stroke-width="1"/>
<rect x="330.55" y="52" width="1.3" height="51" fill="#161616" stroke="none" stroke-width="1"/>
<rect x="331.55" y="40.2" width="1.3" height="62.8" fill="#161616" stroke="none" stroke-width="1"/>
<rect x="332.55" y="48.4" width="1.3" height="54.6" fill="#161616" stroke="none" stroke-width="1"/>
<rect x="333.55" y="55" width="1.3" height="48" fill="#161616" stroke="none" stroke-width="1"/>
<rect x="334.65" y="84.4" width="1.3" height="18.6" fill="#161616" stroke="none" stroke-width="1"/>
<rect x="335.75" y="97" width="1.3" height="6" fill="#161616" stroke="none" stroke-width="1"/>
<rect x="341.15" y="93" width="1.3" height="10" fill="#161616" stroke="none" stroke-width="1"/>
<rect x="344.75" y="84.2" width="1.3" height="18.8" fill="#161616" stroke="none" stroke-width="1"/>
<rect x="346.35" y="101" width="1.3" height="2" fill="#161616" stroke="none" stroke-width="1"/>
<rect x="347.65" y="101.5" width="1.3" height="1.5" fill="#161616" stroke="none" stroke-width="1"/>
<rect x="354.65" y="97.8" width="1.3" height="5.2" fill="#161616" stroke="none" stroke-width="1"/>
<rect x="356.35" y="97.2" width="1.3" height="5.8" fill="#161616" stroke="none" stroke-width="1"/>
<rect x="357.85" y="97.2" width="1.3" height="5.8" fill="#161616" stroke="none" stroke-width="1"/>
<rect x="359.15" y="97.2" width="1.3" height="5.8" fill="#161616" stroke="none" stroke-width="1"/>
<rect x="361.75" y="89.3" width="1.3" height="13.7" fill="#161616" stroke="none" stroke-width="1"/>
<rect x="366.85" y="101" width="1.3" height="2" fill="#161616" stroke="none" stroke-width="1"/>
<rect x="369.35" y="101" width="1.3" height="2" fill="#161616" stroke="none" stroke-width="1"/>
<rect x="371.95" y="93.1" width="1.3" height="9.9" fill="#161616" stroke="none" stroke-width="1"/>
<rect x="373.25" y="93.1" width="1.3" height="9.9" fill="#161616" stroke="none" stroke-width="1"/>
<rect x="375.15" y="96.2" width="1.3" height="6.8" fill="#161616" stroke="none" stroke-width="1"/>
<rect x="376.35" y="99.5" width="1.3" height="3.5" fill="#161616" stroke="none" stroke-width="1"/>
<rect x="380.35" y="100" width="1.3" height="3" fill="#161616" stroke="none" stroke-width="1"/>
<rect x="382.15" y="101" width="1.3" height="2" fill="#161616" stroke="none" stroke-width="1"/>
<rect x="384.15" y="101" width="1.3" height="2" fill="#161616" stroke="none" stroke-width="1"/>
<rect x="385.65" y="101" width="1.3" height="2" fill="#161616" stroke="none" stroke-width="1"/>
<rect x="387.55" y="101.5" width="1.3" height="1.5" fill="#161616" stroke="none" stroke-width="1"/>
<rect x="392.05" y="92.7" width="1.3" height="10.3" fill="#161616" stroke="none" stroke-width="1"/>
<rect x="393.95" y="101" width="1.3" height="2" fill="#161616" stroke="none" stroke-width="1"/>
<rect x="396.35" y="101.5" width="1.3" height="1.5" fill="#161616" stroke="none" stroke-width="1"/>
<rect x="402.25" y="99.8" width="1.3" height="3.2" fill="#161616" stroke="none" stroke-width="1"/>
<rect x="404.15" y="92.7" width="1.3" height="10.3" fill="#161616" stroke="none" stroke-width="1"/>
<rect x="405.45" y="97.2" width="1.3" height="5.8" fill="#161616" stroke="none" stroke-width="1"/>
<rect x="408.05" y="99" width="1.3" height="4" fill="#161616" stroke="none" stroke-width="1"/>
<rect x="415.65" y="101.5" width="1.3" height="1.5" fill="#161616" stroke="none" stroke-width="1"/>
<rect x="417.55" y="101.5" width="1.3" height="1.5" fill="#161616" stroke="none" stroke-width="1"/>
<rect x="420.15" y="101.5" width="1.3" height="1.5" fill="#161616" stroke="none" stroke-width="1"/>
<rect x="424.25" y="96.2" width="1.3" height="6.8" fill="#161616" stroke="none" stroke-width="1"/>
<rect x="426.85" y="72.4" width="1.3" height="30.6" fill="#161616" stroke="none" stroke-width="1"/>
<rect x="427.95" y="72.4" width="1.3" height="30.6" fill="#161616" stroke="none" stroke-width="1"/>
<rect x="429.05" y="72.4" width="1.3" height="30.6" fill="#161616" stroke="none" stroke-width="1"/>
<rect x="430.05" y="78.2" width="1.3" height="24.8" fill="#161616" stroke="none" stroke-width="1"/>
<rect x="430.95" y="94.8" width="1.3" height="8.2" fill="#161616" stroke="none" stroke-width="1"/>
<rect x="434.65" y="84" width="1.3" height="19" fill="#161616" stroke="none" stroke-width="1"/>
<rect x="435.95" y="91.5" width="1.3" height="11.5" fill="#161616" stroke="none" stroke-width="1"/>
<rect x="437.95" y="89" width="1.3" height="14" fill="#161616" stroke="none" stroke-width="1"/>
<rect x="439.35" y="93.2" width="1.3" height="9.8" fill="#161616" stroke="none" stroke-width="1"/>
<rect x="440.95" y="96.5" width="1.3" height="6.5" fill="#161616" stroke="none" stroke-width="1"/>
<rect x="445.95" y="100.5" width="1.3" height="2.5" fill="#161616" stroke="none" stroke-width="1"/>
<rect x="448.35" y="101" width="1.3" height="2" fill="#161616" stroke="none" stroke-width="1"/>
<rect x="450.95" y="101" width="1.3" height="2" fill="#161616" stroke="none" stroke-width="1"/>
<rect x="458.95" y="71.9" width="1.3" height="31.1" fill="#161616" stroke="none" stroke-width="1"/>
<rect x="460.85" y="99" width="1.3" height="4" fill="#161616" stroke="none" stroke-width="1"/>
<rect x="462.55" y="99" width="1.3" height="4" fill="#161616" stroke="none" stroke-width="1"/>
<rect x="465.65" y="93.2" width="1.3" height="9.8" fill="#161616" stroke="none" stroke-width="1"/>
<rect x="468.05" y="57.4" width="1.3" height="45.6" fill="#161616" stroke="none" stroke-width="1"/>
<rect x="468.95" y="52" width="1.3" height="51" fill="#161616" stroke="none" stroke-width="1"/>
<rect x="469.75" y="48.3" width="1.3" height="54.7" fill="#161616" stroke="none" stroke-width="1"/>
<rect x="470.85" y="56.6" width="1.3" height="46.4" fill="#161616" stroke="none" stroke-width="1"/>
<rect x="471.85" y="65" width="1.3" height="38" fill="#161616" stroke="none" stroke-width="1"/>
<rect x="472.75" y="73" width="1.3" height="30" fill="#161616" stroke="none" stroke-width="1"/>
<rect x="475.95" y="99" width="1.3" height="4" fill="#161616" stroke="none" stroke-width="1"/>
<rect x="479.35" y="92.8" width="1.3" height="10.2" fill="#161616" stroke="none" stroke-width="1"/>
<rect x="480.95" y="98" width="1.3" height="5" fill="#161616" stroke="none" stroke-width="1"/>
<rect x="486.75" y="99" width="1.3" height="4" fill="#161616" stroke="none" stroke-width="1"/>
<rect x="488.15" y="89" width="1.3" height="14" fill="#161616" stroke="none" stroke-width="1"/>
<rect x="491.75" y="93.2" width="1.3" height="9.8" fill="#161616" stroke="none" stroke-width="1"/>
<rect x="496.75" y="95.7" width="1.3" height="7.3" fill="#161616" stroke="none" stroke-width="1"/>
<rect x="498.35" y="97.3" width="1.3" height="5.7" fill="#161616" stroke="none" stroke-width="1"/>
<rect x="500.55" y="92.8" width="1.3" height="10.2" fill="#161616" stroke="none" stroke-width="1"/>
<rect x="505.85" y="83.2" width="1.3" height="19.8" fill="#161616" stroke="none" stroke-width="1"/>
<rect x="506.95" y="77" width="1.3" height="26" fill="#161616" stroke="none" stroke-width="1"/>
<rect x="507.85" y="72.4" width="1.3" height="30.6" fill="#161616" stroke="none" stroke-width="1"/>
<rect x="508.85" y="80" width="1.3" height="23" fill="#161616" stroke="none" stroke-width="1"/>
<rect x="514.15" y="101.5" width="1.3" height="1.5" fill="#161616" stroke="none" stroke-width="1"/>
<rect x="517.15" y="101.5" width="1.3" height="1.5" fill="#161616" stroke="none" stroke-width="1"/>
<rect x="344.1" y="187.5" width="3.6" height="5.9" fill="#8a8a8a" stroke="#161616" stroke-width="1"/>
<rect x="359.7" y="137.6" width="1" height="55.8" fill="#8a8a8a" stroke="#161616" stroke-width="1"/>
<rect x="361.4" y="147" width="1.1" height="46.4" fill="#8a8a8a" stroke="#161616" stroke-width="1"/>
<rect x="371.5" y="179.7" width="3.2" height="13.7" fill="#8a8a8a" stroke="#161616" stroke-width="1"/>
<rect x="496.7" y="183.5" width="1.2" height="9.9" fill="#8a8a8a" stroke="#161616" stroke-width="1"/>
<rect x="498.4" y="179.2" width="2.5" height="14.2" fill="#8a8a8a" stroke="#161616" stroke-width="1"/>
<rect x="513.4" y="179.2" width="1.3" height="14.2" fill="#8a8a8a" stroke="#161616" stroke-width="1"/>
<rect x="515.2" y="174.2" width="2.3" height="19.2" fill="#8a8a8a" stroke="#161616" stroke-width="1"/>
<line x1="306.5" y1="122.5" x2="306.5" y2="193.4" stroke="#888" stroke-width="1.1" stroke-dasharray="1.2 3.7"/>
<line x1="306.6" y1="153" x2="520" y2="153" stroke="#9a9a9a" stroke-width="1" stroke-dasharray="1.6 6.2"/>
<line x1="303.5" y1="153" x2="306.5" y2="153" stroke="#555" stroke-width="0.9"/>
<line x1="306.5" y1="193.6" x2="520" y2="193.6" stroke="#999" stroke-width="0.6"/>
<text x="301" y="155.6" font-size="7.8" font-weight="normal" text-anchor="end" fill="#161616">8.7</text>
<text x="301.7" y="195.5" font-size="7.8" font-weight="normal" text-anchor="end" fill="#161616">0</text>
<rect x="308.85" y="190.8" width="1.3" height="2.6" fill="#161616" stroke="none" stroke-width="1"/>
<rect x="310.65" y="190.8" width="1.3" height="2.6" fill="#161616" stroke="none" stroke-width="1"/>
<rect x="312.85" y="186.4" width="1.3" height="7" fill="#161616" stroke="none" stroke-width="1"/>
<rect x="315.35" y="190.8" width="1.3" height="2.6" fill="#161616" stroke="none" stroke-width="1"/>
<rect x="317.55" y="191" width="1.3" height="2.4" fill="#161616" stroke="none" stroke-width="1"/>
<rect x="319.85" y="186.4" width="1.3" height="7" fill="#161616" stroke="none" stroke-width="1"/>
<rect x="323.65" y="178.6" width="1.3" height="14.8" fill="#161616" stroke="none" stroke-width="1"/>
<rect x="325.15" y="173.6" width="1.3" height="19.8" fill="#161616" stroke="none" stroke-width="1"/>
<rect x="326.15" y="173.6" width="1.3" height="19.8" fill="#161616" stroke="none" stroke-width="1"/>
<rect x="327.65" y="146" width="1.3" height="47.4" fill="#161616" stroke="none" stroke-width="1"/>
<rect x="328.35" y="146" width="1.3" height="47.4" fill="#161616" stroke="none" stroke-width="1"/>
<rect x="330.55" y="146" width="1.3" height="47.4" fill="#161616" stroke="none" stroke-width="1"/>
<rect x="331.25" y="146" width="1.3" height="47.4" fill="#161616" stroke="none" stroke-width="1"/>
<rect x="332.05" y="168" width="1.3" height="25.4" fill="#161616" stroke="none" stroke-width="1"/>
<rect x="333.05" y="168" width="1.3" height="25.4" fill="#161616" stroke="none" stroke-width="1"/>
<rect x="333.95" y="185.7" width="1.3" height="7.7" fill="#161616" stroke="none" stroke-width="1"/>
<rect x="334.95" y="186.4" width="1.3" height="7" fill="#161616" stroke="none" stroke-width="1"/>
<rect x="335.85" y="189.3" width="1.3" height="4.1" fill="#161616" stroke="none" stroke-width="1"/>
<rect x="340.15" y="186.5" width="1.3" height="6.9" fill="#161616" stroke="none" stroke-width="1"/>
<rect x="341.15" y="186.5" width="1.3" height="6.9" fill="#161616" stroke="none" stroke-width="1"/>
<rect x="349.05" y="174" width="1.3" height="19.4" fill="#161616" stroke="none" stroke-width="1"/>
<rect x="353.95" y="186.7" width="1.3" height="6.7" fill="#161616" stroke="none" stroke-width="1"/>
<rect x="357.15" y="179.2" width="1.3" height="14.2" fill="#161616" stroke="none" stroke-width="1"/>
<rect x="367.35" y="192.3" width="1.3" height="1.1" fill="#161616" stroke="none" stroke-width="1"/>
<rect x="369.35" y="192" width="1.3" height="1.4" fill="#161616" stroke="none" stroke-width="1"/>
<rect x="374.75" y="186.7" width="1.3" height="6.7" fill="#161616" stroke="none" stroke-width="1"/>
<rect x="378.95" y="174" width="1.3" height="19.4" fill="#161616" stroke="none" stroke-width="1"/>
<rect x="380.35" y="169.9" width="1.3" height="23.5" fill="#161616" stroke="none" stroke-width="1"/>
<rect x="381.55" y="161.4" width="1.3" height="32" fill="#161616" stroke="none" stroke-width="1"/>
<rect x="382.75" y="183.3" width="1.3" height="10.1" fill="#161616" stroke="none" stroke-width="1"/>
<rect x="385.15" y="190.4" width="1.3" height="3" fill="#161616" stroke="none" stroke-width="1"/>
<rect x="386.45" y="191" width="1.3" height="2.4" fill="#161616" stroke="none" stroke-width="1"/>
<rect x="392.65" y="186.7" width="1.3" height="6.7" fill="#161616" stroke="none" stroke-width="1"/>
<rect x="394.15" y="191" width="1.3" height="2.4" fill="#161616" stroke="none" stroke-width="1"/>
<rect x="395.65" y="186.7" width="1.3" height="6.7" fill="#161616" stroke="none" stroke-width="1"/>
<rect x="401.05" y="191.5" width="1.3" height="1.9" fill="#161616" stroke="none" stroke-width="1"/>
<rect x="402.85" y="191.5" width="1.3" height="1.9" fill="#161616" stroke="none" stroke-width="1"/>
<rect x="404.85" y="192" width="1.3" height="1.4" fill="#161616" stroke="none" stroke-width="1"/>
<rect x="407.75" y="191.2" width="1.3" height="2.2" fill="#161616" stroke="none" stroke-width="1"/>
<rect x="412.85" y="192" width="1.3" height="1.4" fill="#161616" stroke="none" stroke-width="1"/>
<rect x="416.65" y="191.5" width="1.3" height="1.9" fill="#161616" stroke="none" stroke-width="1"/>
<rect x="418.85" y="178.9" width="1.3" height="14.5" fill="#161616" stroke="none" stroke-width="1"/>
<rect x="424.05" y="191" width="1.3" height="2.4" fill="#161616" stroke="none" stroke-width="1"/>
<rect x="426.25" y="189" width="1.3" height="4.4" fill="#161616" stroke="none" stroke-width="1"/>
<rect x="427.75" y="190.5" width="1.3" height="2.9" fill="#161616" stroke="none" stroke-width="1"/>
<rect x="430.75" y="191.5" width="1.3" height="1.9" fill="#161616" stroke="none" stroke-width="1"/>
<rect x="435.15" y="191" width="1.3" height="2.4" fill="#161616" stroke="none" stroke-width="1"/>
<rect x="438.85" y="186.3" width="1.3" height="7.1" fill="#161616" stroke="none" stroke-width="1"/>
<rect x="441.05" y="191" width="1.3" height="2.4" fill="#161616" stroke="none" stroke-width="1"/>
<rect x="446.35" y="187.2" width="1.3" height="6.2" fill="#161616" stroke="none" stroke-width="1"/>
<rect x="447.75" y="183" width="1.3" height="10.4" fill="#161616" stroke="none" stroke-width="1"/>
<rect x="449.25" y="183" width="1.3" height="10.4" fill="#161616" stroke="none" stroke-width="1"/>
<rect x="450.75" y="187.2" width="1.3" height="6.2" fill="#161616" stroke="none" stroke-width="1"/>
<rect x="455.15" y="190" width="1.3" height="3.4" fill="#161616" stroke="none" stroke-width="1"/>
<rect x="458.05" y="173.9" width="1.3" height="19.5" fill="#161616" stroke="none" stroke-width="1"/>
<rect x="459.95" y="183.8" width="1.3" height="9.6" fill="#161616" stroke="none" stroke-width="1"/>
<rect x="461.85" y="186.6" width="1.3" height="6.8" fill="#161616" stroke="none" stroke-width="1"/>
<rect x="465.95" y="190.7" width="1.3" height="2.7" fill="#161616" stroke="none" stroke-width="1"/>
<rect x="468.95" y="189.4" width="1.3" height="4" fill="#161616" stroke="none" stroke-width="1"/>
<rect x="475.85" y="191.3" width="1.3" height="2.1" fill="#161616" stroke="none" stroke-width="1"/>
<rect x="478.25" y="179.2" width="1.3" height="14.2" fill="#161616" stroke="none" stroke-width="1"/>
<rect x="480.15" y="184.4" width="1.3" height="9" fill="#161616" stroke="none" stroke-width="1"/>
<rect x="481.95" y="189.4" width="1.3" height="4" fill="#161616" stroke="none" stroke-width="1"/>
<rect x="487.55" y="189.4" width="1.3" height="4" fill="#161616" stroke="none" stroke-width="1"/>
<rect x="489.85" y="191" width="1.3" height="2.4" fill="#161616" stroke="none" stroke-width="1"/>
<rect x="504.75" y="191" width="1.3" height="2.4" fill="#161616" stroke="none" stroke-width="1"/>
<rect x="507.55" y="190" width="1.3" height="3.4" fill="#161616" stroke="none" stroke-width="1"/>
<text x="319.8" y="38.2" font-size="8.3" font-weight="normal" text-anchor="start" fill="#161616">chr2</text>
<text x="381.2" y="38.2" font-size="8.2" font-weight="normal" text-anchor="start" fill="#161616">DBA/2 x B6D2F1</text>
<text x="455.6" y="38.3" font-size="8.3" font-weight="normal" text-anchor="start" fill="#161616">chr14</text>
<text x="320.5" y="132.2" font-size="8.3" font-weight="normal" text-anchor="start" fill="#161616">chr2</text>
<text x="347.4" y="132.2" font-size="8.3" font-weight="normal" text-anchor="start" fill="#161616">chr4</text>
<text x="379.4" y="132.4" font-size="8.2" font-weight="normal" text-anchor="start" fill="#161616">B6D2F1 x DBA/2</text>
<rect x="497.2" y="8.8" width="17.4" height="16.3" fill="#fff" stroke="#161616" stroke-width="1.3"/>
<text x="505.9" y="20.45" font-size="10" font-weight="bold" text-anchor="middle" fill="#161616" style="stroke-width:0.45px">B</text>
<text x="285.6" y="128.8" font-size="9.6" font-weight="bold" text-anchor="start" fill="#161616" transform="rotate(-90 285.6 128.8)">&#967;2</text>
<text x="286.3" y="108.6" font-size="9.6" font-weight="bold" text-anchor="start" fill="#161616" transform="rotate(-90 286.3 108.6)">values</text>
<line x1="22.6" y1="250" x2="361.8" y2="250" stroke="#111" stroke-width="1.3"/>
<line x1="361.8" y1="250" x2="361.8" y2="359.8" stroke="#444" stroke-width="1"/>
<line x1="22.6" y1="250" x2="22.6" y2="359.8" stroke="#444" stroke-width="1"/>
<line x1="20.8" y1="335.8" x2="22.6" y2="335.8" stroke="#555" stroke-width="0.8"/>
<line x1="20.8" y1="311.8" x2="22.6" y2="311.8" stroke="#555" stroke-width="0.8"/>
<line x1="20.8" y1="287.8" x2="22.6" y2="287.8" stroke="#555" stroke-width="0.8"/>
<line x1="20.8" y1="263.8" x2="22.6" y2="263.8" stroke="#555" stroke-width="0.8"/>
<text x="17.9" y="358.9" font-size="7.3" font-weight="normal" text-anchor="middle" fill="#161616" transform="rotate(-90 17.9 358.9)">0</text>
<text x="17.9" y="334.9" font-size="7.3" font-weight="normal" text-anchor="middle" fill="#161616" transform="rotate(-90 17.9 334.9)">2</text>
<text x="17.9" y="310.9" font-size="7.3" font-weight="normal" text-anchor="middle" fill="#161616" transform="rotate(-90 17.9 310.9)">4</text>
<text x="17.9" y="286.9" font-size="7.3" font-weight="normal" text-anchor="middle" fill="#161616" transform="rotate(-90 17.9 286.9)">6</text>
<text x="17.9" y="262.9" font-size="7.3" font-weight="normal" text-anchor="middle" fill="#161616" transform="rotate(-90 17.9 262.9)">8</text>
<text x="8" y="340.4" font-size="9.4" font-weight="bold" text-anchor="start" fill="#161616" transform="rotate(-90 8 340.4)">PB-CFC</text>
<text x="8" y="299" font-size="9.6" font-weight="bold" text-anchor="start" fill="#161616" transform="rotate(-90 8 299)">per</text>
<text x="8" y="279" font-size="9.6" font-weight="bold" text-anchor="start" fill="#161616" transform="rotate(-90 8 279)">&#181;l</text>
<rect x="339.7" y="255.4" width="16.6" height="15.7" fill="#fff" stroke="#161616" stroke-width="1.3"/>
<text x="348" y="266.75" font-size="10" font-weight="bold" text-anchor="middle" fill="#161616" style="stroke-width:0.45px">C</text>
<rect x="24.6" y="348.7" width="1.7" height="11.1" fill="#d6d6d6" stroke="#333" stroke-width="0.85"/>
<rect x="26.7" y="353.2" width="2.5" height="6.6" fill="#161616" stroke="none" stroke-width="1"/>
<rect x="29.6" y="358.6" width="1.7" height="1.2" fill="#fff" stroke="#333" stroke-width="0.8"/>
<text x="35.9" y="350" font-size="8" font-weight="normal" text-anchor="start" fill="#161616" transform="rotate(-90 35.9 350)" style="stroke-width:0.3px">0.6</text>
<text x="30.6" y="370.7" font-size="7.4" font-weight="normal" text-anchor="end" fill="#161616" transform="rotate(-55 30.6 370.7)" style="stroke-width:0.3px">BXD-1</text>
<rect x="37.5" y="350.6" width="1.7" height="9.2" fill="#d6d6d6" stroke="#333" stroke-width="0.85"/>
<rect x="39.6" y="356.2" width="2.5" height="3.6" fill="#161616" stroke="none" stroke-width="1"/>
<rect x="42.5" y="355.3" width="1.7" height="4.5" fill="#fff" stroke="#333" stroke-width="0.8"/>
<text x="48.4" y="350.7" font-size="8" font-weight="normal" text-anchor="start" fill="#161616" transform="rotate(-90 48.4 350.7)" style="stroke-width:0.3px">0.5</text>
<text x="43.5" y="370.7" font-size="7.4" font-weight="normal" text-anchor="end" fill="#161616" transform="rotate(-55 43.5 370.7)" style="stroke-width:0.3px">BXD-2</text>
<rect x="50.8" y="354" width="1.7" height="5.8" fill="#d6d6d6" stroke="#333" stroke-width="0.85"/>
<rect x="52.9" y="354.9" width="2.5" height="4.9" fill="#161616" stroke="none" stroke-width="1"/>
<text x="60.9" y="351.6" font-size="8" font-weight="normal" text-anchor="start" fill="#161616" transform="rotate(-90 60.9 351.6)" style="stroke-width:0.3px">0.5</text>
<text x="56.8" y="370.7" font-size="7.4" font-weight="normal" text-anchor="end" fill="#161616" transform="rotate(-55 56.8 370.7)" style="stroke-width:0.3px">BXD-5</text>
<rect x="64" y="351.6" width="1.7" height="8.2" fill="#d6d6d6" stroke="#333" stroke-width="0.85"/>
<rect x="66.1" y="340.3" width="2.5" height="19.5" fill="#161616" stroke="none" stroke-width="1"/>
<rect x="69" y="350.6" width="1.7" height="9.2" fill="#fff" stroke="#333" stroke-width="0.8"/>
<text x="75" y="343" font-size="8" font-weight="normal" text-anchor="start" fill="#161616" transform="rotate(-90 75 343)" style="stroke-width:0.3px">1.0</text>
<text x="70" y="370.7" font-size="7.4" font-weight="normal" text-anchor="end" fill="#161616" transform="rotate(-55 70 370.7)" style="stroke-width:0.3px">BXD-6</text>
<rect x="77.4" y="354.4" width="1.7" height="5.4" fill="#d6d6d6" stroke="#333" stroke-width="0.85"/>
<rect x="79.5" y="354" width="2.5" height="5.8" fill="#161616" stroke="none" stroke-width="1"/>
<rect x="82.4" y="351.6" width="1.7" height="8.2" fill="#fff" stroke="#333" stroke-width="0.8"/>
<text x="88.8" y="350" font-size="8" font-weight="normal" text-anchor="start" fill="#161616" transform="rotate(-90 88.8 350)" style="stroke-width:0.3px">0.6</text>
<text x="83.4" y="370.7" font-size="7.4" font-weight="normal" text-anchor="end" fill="#161616" transform="rotate(-55 83.4 370.7)" style="stroke-width:0.3px">BXD-8</text>
<rect x="91" y="263.9" width="1.7" height="95.9" fill="#d6d6d6" stroke="#333" stroke-width="0.85"/>
<rect x="93.1" y="277.5" width="2.5" height="82.3" fill="#161616" stroke="none" stroke-width="1"/>
<rect x="96" y="291.4" width="1.7" height="68.4" fill="#fff" stroke="#333" stroke-width="0.8"/>
<text x="101.6" y="276" font-size="8" font-weight="normal" text-anchor="start" fill="#161616" transform="rotate(-90 101.6 276)" style="stroke-width:0.3px">6.8</text>
<text x="97" y="370.7" font-size="7.4" font-weight="normal" text-anchor="end" fill="#161616" transform="rotate(-55 97 370.7)" style="stroke-width:0.3px">BXD-9</text>
<rect x="103.9" y="349.2" width="1.7" height="10.6" fill="#d6d6d6" stroke="#333" stroke-width="0.85"/>
<rect x="106" y="355" width="2.5" height="4.8" fill="#161616" stroke="none" stroke-width="1"/>
<rect x="108.9" y="349.8" width="1.7" height="10" fill="#fff" stroke="#333" stroke-width="0.8"/>
<text x="114.7" y="347.7" font-size="8" font-weight="normal" text-anchor="start" fill="#161616" transform="rotate(-90 114.7 347.7)" style="stroke-width:0.3px">0.7</text>
<text x="109.9" y="370.7" font-size="7.4" font-weight="normal" text-anchor="end" fill="#161616" transform="rotate(-55 109.9 370.7)" style="stroke-width:0.3px">BXD11</text>
<rect x="117.4" y="350.6" width="1.7" height="9.2" fill="#d6d6d6" stroke="#333" stroke-width="0.85"/>
<rect x="119.5" y="355.2" width="2.5" height="4.6" fill="#161616" stroke="none" stroke-width="1"/>
<text x="128.3" y="349.4" font-size="8" font-weight="normal" text-anchor="start" fill="#161616" transform="rotate(-90 128.3 349.4)" style="stroke-width:0.3px">0.6</text>
<text x="123.4" y="370.7" font-size="7.4" font-weight="normal" text-anchor="end" fill="#161616" transform="rotate(-55 123.4 370.7)" style="stroke-width:0.3px">BXD12</text>
<rect x="130.7" y="345.2" width="1.7" height="14.6" fill="#d6d6d6" stroke="#333" stroke-width="0.85"/>
<rect x="132.8" y="349.8" width="2.5" height="10" fill="#161616" stroke="none" stroke-width="1"/>
<rect x="135.7" y="352.4" width="1.7" height="7.4" fill="#fff" stroke="#333" stroke-width="0.8"/>
<text x="141.2" y="345.4" font-size="8" font-weight="normal" text-anchor="start" fill="#161616" transform="rotate(-90 141.2 345.4)" style="stroke-width:0.3px">0.9</text>
<text x="136.7" y="370.7" font-size="7.4" font-weight="normal" text-anchor="end" fill="#161616" transform="rotate(-55 136.7 370.7)" style="stroke-width:0.3px">BXD13</text>
<rect x="143.6" y="317.8" width="1.7" height="42" fill="#d6d6d6" stroke="#333" stroke-width="0.85"/>
<rect x="145.7" y="291.4" width="2.5" height="68.4" fill="#161616" stroke="none" stroke-width="1"/>
<rect x="148.6" y="338.4" width="1.7" height="21.4" fill="#fff" stroke="#333" stroke-width="0.8"/>
<text x="155.2" y="312.5" font-size="8" font-weight="normal" text-anchor="start" fill="#161616" transform="rotate(-90 155.2 312.5)" style="stroke-width:0.3px">3.6</text>
<text x="149.6" y="370.7" font-size="7.4" font-weight="normal" text-anchor="end" fill="#161616" transform="rotate(-55 149.6 370.7)" style="stroke-width:0.3px">BXD14</text>
<rect x="156.6" y="335.5" width="1.7" height="24.3" fill="#d6d6d6" stroke="#333" stroke-width="0.85"/>
<rect x="158.7" y="323.9" width="2.5" height="35.9" fill="#161616" stroke="none" stroke-width="1"/>
<rect x="161.6" y="342.8" width="1.7" height="17" fill="#fff" stroke="#333" stroke-width="0.8"/>
<text x="167.3" y="332" font-size="8" font-weight="normal" text-anchor="start" fill="#161616" transform="rotate(-90 167.3 332)" style="stroke-width:0.3px">2.1</text>
<text x="162.6" y="370.7" font-size="7.4" font-weight="normal" text-anchor="end" fill="#161616" transform="rotate(-55 162.6 370.7)" style="stroke-width:0.3px">BXD15</text>
<rect x="169.5" y="289.4" width="1.7" height="70.4" fill="#d6d6d6" stroke="#333" stroke-width="0.85"/>
<rect x="171.6" y="320.5" width="2.5" height="39.3" fill="#161616" stroke="none" stroke-width="1"/>
<rect x="174.5" y="325.8" width="1.7" height="34" fill="#fff" stroke="#333" stroke-width="0.8"/>
<text x="180.7" y="309.3" font-size="8" font-weight="normal" text-anchor="start" fill="#161616" transform="rotate(-90 180.7 309.3)" style="stroke-width:0.3px">4.0</text>
<text x="175.5" y="370.7" font-size="7.4" font-weight="normal" text-anchor="end" fill="#161616" transform="rotate(-55 175.5 370.7)" style="stroke-width:0.3px">BXD16</text>
<rect x="182.1" y="332.4" width="1.7" height="27.4" fill="#d6d6d6" stroke="#333" stroke-width="0.85"/>
<rect x="184.2" y="340.4" width="2.5" height="19.4" fill="#161616" stroke="none" stroke-width="1"/>
<rect x="187.1" y="334" width="1.7" height="25.8" fill="#fff" stroke="#333" stroke-width="0.8"/>
<text x="193.6" y="332" font-size="8" font-weight="normal" text-anchor="start" fill="#161616" transform="rotate(-90 193.6 332)" style="stroke-width:0.3px">2.0</text>
<text x="188.1" y="370.7" font-size="7.4" font-weight="normal" text-anchor="end" fill="#161616" transform="rotate(-55 188.1 370.7)" style="stroke-width:0.3px">BXD18</text>
<rect x="195.7" y="345.2" width="1.7" height="14.6" fill="#d6d6d6" stroke="#333" stroke-width="0.85"/>
<rect x="197.8" y="332.7" width="2.5" height="27.1" fill="#161616" stroke="none" stroke-width="1"/>
<rect x="200.7" y="352.5" width="1.7" height="7.3" fill="#fff" stroke="#333" stroke-width="0.8"/>
<text x="206.4" y="339.2" font-size="8" font-weight="normal" text-anchor="start" fill="#161616" transform="rotate(-90 206.4 339.2)" style="stroke-width:0.3px">1.4</text>
<text x="201.7" y="370.7" font-size="7.4" font-weight="normal" text-anchor="end" fill="#161616" transform="rotate(-55 201.7 370.7)" style="stroke-width:0.3px">BXD19</text>
<rect x="209" y="305.1" width="1.7" height="54.7" fill="#d6d6d6" stroke="#333" stroke-width="0.85"/>
<rect x="211.1" y="340" width="2.5" height="19.8" fill="#161616" stroke="none" stroke-width="1"/>
<text x="220.2" y="318.6" font-size="8" font-weight="normal" text-anchor="start" fill="#161616" transform="rotate(-90 220.2 318.6)" style="stroke-width:0.3px">3.1</text>
<text x="215" y="370.7" font-size="7.4" font-weight="normal" text-anchor="end" fill="#161616" transform="rotate(-55 215 370.7)" style="stroke-width:0.3px">BXD20</text>
<rect x="221.7" y="347.6" width="1.7" height="12.2" fill="#d6d6d6" stroke="#333" stroke-width="0.85"/>
<rect x="223.8" y="349" width="2.5" height="10.8" fill="#161616" stroke="none" stroke-width="1"/>
<rect x="226.7" y="338.9" width="1.7" height="20.9" fill="#fff" stroke="#333" stroke-width="0.8"/>
<text x="233.1" y="341.7" font-size="8" font-weight="normal" text-anchor="start" fill="#161616" transform="rotate(-90 233.1 341.7)" style="stroke-width:0.3px">1.2</text>
<text x="227.7" y="370.7" font-size="7.4" font-weight="normal" text-anchor="end" fill="#161616" transform="rotate(-55 227.7 370.7)" style="stroke-width:0.3px">BXD21</text>
<rect x="234.5" y="348.6" width="1.7" height="11.2" fill="#d6d6d6" stroke="#333" stroke-width="0.85"/>
<rect x="236.6" y="351.4" width="2.5" height="8.4" fill="#161616" stroke="none" stroke-width="1"/>
<rect x="239.5" y="342.8" width="1.7" height="17" fill="#fff" stroke="#333" stroke-width="0.8"/>
<text x="246" y="341.7" font-size="8" font-weight="normal" text-anchor="start" fill="#161616" transform="rotate(-90 246 341.7)" style="stroke-width:0.3px">1.0</text>
<text x="240.5" y="370.7" font-size="7.4" font-weight="normal" text-anchor="end" fill="#161616" transform="rotate(-55 240.5 370.7)" style="stroke-width:0.3px">BXD22</text>
<rect x="247.7" y="281.8" width="1.7" height="78" fill="#d6d6d6" stroke="#333" stroke-width="0.85"/>
<rect x="249.8" y="253" width="2.5" height="106.8" fill="#161616" stroke="none" stroke-width="1"/>
<rect x="252.7" y="301" width="1.7" height="58.8" fill="#fff" stroke="#333" stroke-width="0.8"/>
<text x="258.9" y="275.7" font-size="8" font-weight="normal" text-anchor="start" fill="#161616" transform="rotate(-90 258.9 275.7)" style="stroke-width:0.3px">6.7</text>
<text x="253.7" y="370.7" font-size="7.4" font-weight="normal" text-anchor="end" fill="#161616" transform="rotate(-55 253.7 370.7)" style="stroke-width:0.3px">BXD23</text>
<rect x="260.5" y="292.4" width="1.7" height="67.4" fill="#d6d6d6" stroke="#333" stroke-width="0.85"/>
<rect x="262.6" y="300.6" width="2.5" height="59.2" fill="#161616" stroke="none" stroke-width="1"/>
<text x="271" y="292.9" font-size="8" font-weight="normal" text-anchor="start" fill="#161616" transform="rotate(-90 271 292.9)" style="stroke-width:0.3px">5.2</text>
<text x="266.5" y="370.7" font-size="7.4" font-weight="normal" text-anchor="end" fill="#161616" transform="rotate(-55 266.5 370.7)" style="stroke-width:0.3px">BXD24</text>
<rect x="272.7" y="341.2" width="1.7" height="18.6" fill="#d6d6d6" stroke="#333" stroke-width="0.85"/>
<rect x="274.8" y="343.7" width="2.5" height="16.1" fill="#161616" stroke="none" stroke-width="1"/>
<text x="283.9" y="337.9" font-size="8" font-weight="normal" text-anchor="start" fill="#161616" transform="rotate(-90 283.9 337.9)" style="stroke-width:0.3px">1.4</text>
<text x="278.7" y="370.7" font-size="7.4" font-weight="normal" text-anchor="end" fill="#161616" transform="rotate(-55 278.7 370.7)" style="stroke-width:0.3px">BXD25</text>
<rect x="285.9" y="309.6" width="1.7" height="50.2" fill="#d6d6d6" stroke="#333" stroke-width="0.85"/>
<rect x="288" y="334.7" width="2.5" height="25.1" fill="#161616" stroke="none" stroke-width="1"/>
<rect x="290.9" y="343.7" width="1.7" height="16.1" fill="#fff" stroke="#333" stroke-width="0.8"/>
<text x="296" y="326.4" font-size="8" font-weight="normal" text-anchor="start" fill="#161616" transform="rotate(-90 296 326.4)" style="stroke-width:0.3px">2.5</text>
<text x="291.9" y="370.7" font-size="7.4" font-weight="normal" text-anchor="end" fill="#161616" transform="rotate(-55 291.9 370.7)" style="stroke-width:0.3px">BXD27</text>
<rect x="298.9" y="353.3" width="1.7" height="6.5" fill="#d6d6d6" stroke="#333" stroke-width="0.85"/>
<rect x="301" y="326" width="2.5" height="33.8" fill="#161616" stroke="none" stroke-width="1"/>
<text x="309.8" y="336" font-size="8" font-weight="normal" text-anchor="start" fill="#161616" transform="rotate(-90 309.8 336)" style="stroke-width:0.3px">1.6</text>
<text x="304.9" y="370.7" font-size="7.4" font-weight="normal" text-anchor="end" fill="#161616" transform="rotate(-55 304.9 370.7)" style="stroke-width:0.3px">BXD28</text>
<rect x="312" y="309" width="1.7" height="50.8" fill="#d6d6d6" stroke="#333" stroke-width="0.85"/>
<rect x="314.1" y="332.2" width="2.5" height="27.6" fill="#161616" stroke="none" stroke-width="1"/>
<rect x="317" y="336" width="1.7" height="23.8" fill="#fff" stroke="#333" stroke-width="0.8"/>
<text x="322.8" y="322.6" font-size="8" font-weight="normal" text-anchor="start" fill="#161616" transform="rotate(-90 322.8 322.6)" style="stroke-width:0.3px">2.8</text>
<text x="318" y="370.7" font-size="7.4" font-weight="normal" text-anchor="end" fill="#161616" transform="rotate(-55 318 370.7)" style="stroke-width:0.3px">BXD29</text>
<rect x="324.8" y="354.6" width="1.7" height="5.2" fill="#d6d6d6" stroke="#333" stroke-width="0.85"/>
<rect x="326.9" y="347.9" width="2.5" height="11.9" fill="#161616" stroke="none" stroke-width="1"/>
<rect x="329.8" y="340.6" width="1.7" height="19.2" fill="#fff" stroke="#333" stroke-width="0.8"/>
<text x="335.2" y="342.7" font-size="8" font-weight="normal" text-anchor="start" fill="#161616" transform="rotate(-90 335.2 342.7)" style="stroke-width:0.3px">1.0</text>
<text x="330.8" y="370.7" font-size="7.4" font-weight="normal" text-anchor="end" fill="#161616" transform="rotate(-55 330.8 370.7)" style="stroke-width:0.3px">BXD30</text>
<rect x="337.2" y="342.5" width="1.7" height="17.3" fill="#d6d6d6" stroke="#333" stroke-width="0.85"/>
<rect x="339.3" y="325.5" width="2.5" height="34.3" fill="#161616" stroke="none" stroke-width="1"/>
<rect x="342.2" y="330.7" width="1.7" height="29.1" fill="#fff" stroke="#333" stroke-width="0.8"/>
<text x="347.5" y="329.3" font-size="8" font-weight="normal" text-anchor="start" fill="#161616" transform="rotate(-90 347.5 329.3)" style="stroke-width:0.3px">2.2</text>
<text x="343.2" y="370.7" font-size="7.4" font-weight="normal" text-anchor="end" fill="#161616" transform="rotate(-55 343.2 370.7)" style="stroke-width:0.3px">BXD31</text>
<rect x="349.7" y="329.7" width="1.7" height="30.1" fill="#d6d6d6" stroke="#333" stroke-width="0.85"/>
<rect x="351.8" y="337.9" width="2.5" height="21.9" fill="#161616" stroke="none" stroke-width="1"/>
<rect x="354.7" y="324.9" width="1.7" height="34.9" fill="#fff" stroke="#333" stroke-width="0.8"/>
<text x="359.6" y="326.4" font-size="8" font-weight="normal" text-anchor="start" fill="#161616" transform="rotate(-90 359.6 326.4)" style="stroke-width:0.3px">2.4</text>
<text x="355.7" y="370.7" font-size="7.4" font-weight="normal" text-anchor="end" fill="#161616" transform="rotate(-55 355.7 370.7)" style="stroke-width:0.3px">BXD32</text>
<line x1="22.1" y1="359.8" x2="362.3" y2="359.8" stroke="#111" stroke-width="1.4"/>
<line x1="398.9" y1="269.1" x2="515.2" y2="269.1" stroke="#9a9a9a" stroke-width="1" stroke-dasharray="1.6 6.3"/>
<line x1="398.8" y1="249.4" x2="515.2" y2="249.4" stroke="#222" stroke-width="1.2"/>
<line x1="515.2" y1="249.4" x2="515.2" y2="363.7" stroke="#444" stroke-width="1"/>
<line x1="398.8" y1="249.4" x2="398.8" y2="363.7" stroke="#444" stroke-width="1"/>
<line x1="398.3" y1="363.7" x2="515.7" y2="363.7" stroke="#222" stroke-width="1.4"/>
<line x1="396.8" y1="269.1" x2="398.8" y2="269.1" stroke="#555" stroke-width="0.8"/>
<text x="394" y="272" font-size="8" font-weight="normal" text-anchor="end" fill="#161616">15</text>
<text x="393.8" y="366.7" font-size="8.4" font-weight="normal" text-anchor="end" fill="#161616">0</text>
<text x="399.3" y="377.1" font-size="8.2" font-weight="normal" text-anchor="middle" fill="#161616">0</text>
<text x="432.6" y="377.1" font-size="8.2" font-weight="normal" text-anchor="middle" fill="#161616">10</text>
<text x="465.6" y="377.1" font-size="8.2" font-weight="normal" text-anchor="middle" fill="#161616">20</text>
<text x="498.8" y="377.1" font-size="8.2" font-weight="normal" text-anchor="middle" fill="#161616">30</text>
<text x="401" y="386.5" font-size="9.9" font-weight="bold" text-anchor="start" fill="#161616" textLength="106.5" lengthAdjust="spacingAndGlyphs">cM&#160;&#160;position&#160;&#160;on&#160;&#160;chr 11</text>
<text x="379.4" y="355.3" font-size="9.3" font-weight="bold" text-anchor="start" fill="#161616" transform="rotate(-90 379.4 355.3)" textLength="105.5" lengthAdjust="spacingAndGlyphs">Liklihood Ratio Statistic</text>
<rect x="487.2" y="253.4" width="16.7" height="16" fill="#fff" stroke="#161616" stroke-width="1.3"/>
<text x="495.55" y="264.9" font-size="10" font-weight="bold" text-anchor="middle" fill="#161616" style="stroke-width:0.45px">D</text>
<polyline fill="none" stroke="#161616" stroke-width="1.1" stroke-linejoin="round" points="402.2,321.6 403.5,300 404.9,281.9 406.6,267.5 408,263.5 409.3,262.2 410.6,263.5 412,266.6 413.8,268.4 415,271.1 415.6,279.2 416.5,273.8 417.4,278.3 418.3,295.3 420.1,298 421.9,302.5 423.5,309 425.4,317.5 426.8,312 428.1,308.2 430,305.8 431.7,305.3 433.2,306.2 434.7,308.4 436.5,320 438.5,338 440.7,356.5 445.5,357 451.5,356 453.9,360.1 457,363.5 463.5,363.2 464.7,362 476.7,361.3 490,360.1 494.8,357.7 498.4,358.4 502,359.4 505.6,360.6 508,363 514,363.5"/>
</svg>
</body></html>
